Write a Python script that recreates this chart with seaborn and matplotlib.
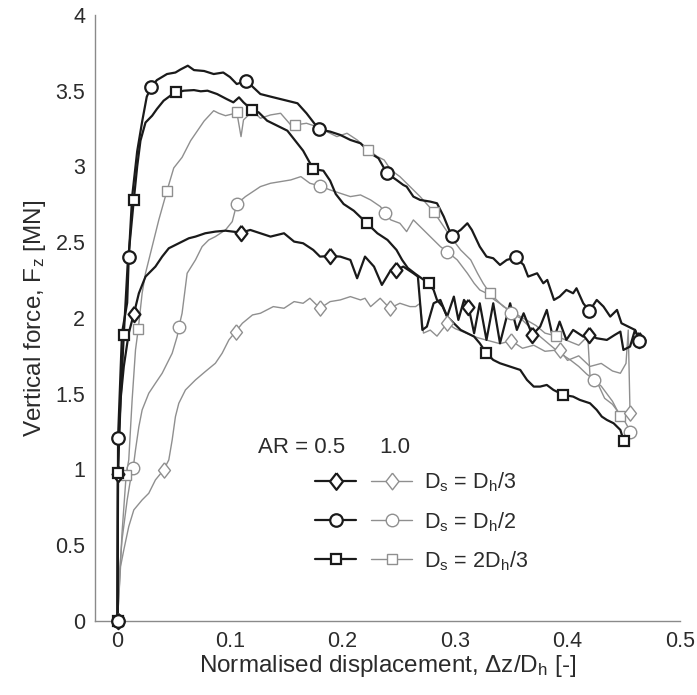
import matplotlib
matplotlib.use("Agg")
import matplotlib.pyplot as plt
import seaborn as sns
from matplotlib.lines import Line2D
from matplotlib.legend_handler import HandlerTuple

# ---- data (x = dz/Dh, y = Fz in MN) ----
# AR = 0.5, Ds = Dh/2 (dark, circles)
c05_x = [0, 0.0005, 0.004, 0.0086, 0.010, 0.013, 0.0175, 0.022, 0.026, 0.030, 0.035, 0.044,
         0.0515, 0.056, 0.0625, 0.068, 0.077, 0.0855, 0.094, 0.100, 0.106, 0.1146, 0.121, 0.127,
         0.136, 0.148, 0.160, 0.168, 0.179, 0.189, 0.198, 0.207, 0.216, 0.225, 0.232, 0.2395,
         0.248, 0.254, 0.257, 0.263, 0.269, 0.278, 0.284, 0.290, 0.297, 0.305, 0.311, 0.315,
         0.322, 0.328, 0.334, 0.340, 0.346, 0.354, 0.361, 0.365, 0.373, 0.3785, 0.382, 0.388,
         0.393, 0.399, 0.405, 0.408, 0.414, 0.4195, 0.426, 0.432, 0.438, 0.444, 0.448, 0.454,
         0.460, 0.464]
c05_y = [0, 1.21, 1.90, 2.10, 2.40, 2.80, 3.10, 3.30, 3.46, 3.526, 3.57, 3.61,
         3.62, 3.64, 3.665, 3.636, 3.63, 3.61, 3.62, 3.59, 3.544, 3.566, 3.52, 3.478,
         3.461, 3.439, 3.417, 3.351, 3.245, 3.230, 3.208, 3.175, 3.153, 3.087, 3.054, 2.955,
         2.911, 2.878, 2.867, 2.801, 2.779, 2.768, 2.757, 2.669, 2.541, 2.581, 2.625, 2.581,
         2.471, 2.405, 2.394, 2.350, 2.383, 2.400, 2.350, 2.273, 2.295, 2.229, 2.251, 2.119,
         2.141, 2.185, 2.163, 2.196, 2.097, 2.046, 2.119, 2.075, 2.009, 2.053, 1.965, 1.943,
         1.921, 1.850]
c05_mx = [0, 0.0005, 0.010, 0.030, 0.1146, 0.179, 0.2395, 0.297, 0.354, 0.4195, 0.464]
c05_my = [0, 1.21, 2.40, 3.526, 3.566, 3.245, 2.955, 2.541, 2.400, 2.046, 1.850]

# AR = 0.5, Ds = 2Dh/3 (dark, squares)
s05_x = [0, 0.0003, 0.003, 0.0056, 0.009, 0.0145, 0.0175, 0.0204, 0.0249, 0.0308, 0.035, 0.041,
         0.047, 0.0524, 0.059, 0.068, 0.074, 0.080, 0.0885, 0.097, 0.103, 0.108, 0.112, 0.1196,
         0.1255, 0.133, 0.142, 0.151, 0.158, 0.165, 0.174, 0.183, 0.189, 0.194, 0.201, 0.210,
         0.2217, 0.231, 0.240, 0.248, 0.253, 0.258, 0.265, 0.2765, 0.281, 0.284, 0.289, 0.293,
         0.299, 0.305, 0.311, 0.317, 0.322, 0.328, 0.334, 0.340, 0.349, 0.358, 0.364, 0.370,
         0.3757, 0.3816, 0.3875, 0.3964, 0.405, 0.411, 0.420, 0.426, 0.4305, 0.435, 0.441, 0.447,
         0.450]
s05_y = [0, 0.98, 1.50, 1.89, 2.35, 2.78, 3.00, 3.17, 3.29, 3.335, 3.379, 3.434,
         3.467, 3.489, 3.50, 3.504, 3.496, 3.50, 3.478, 3.445, 3.423, 3.456, 3.423, 3.372,
         3.357, 3.302, 3.269, 3.236, 3.17, 3.104, 2.983, 2.972, 2.906, 2.818, 2.752, 2.708,
         2.625, 2.559, 2.515, 2.449, 2.383, 2.33, 2.29, 2.229, 2.185, 2.119, 2.075, 2.009,
         1.965, 1.921, 1.899, 1.877, 1.833, 1.767, 1.723, 1.701, 1.679, 1.657, 1.591, 1.547,
         1.547, 1.558, 1.525, 1.492, 1.481, 1.459, 1.437, 1.393, 1.349, 1.327, 1.305, 1.261,
         1.188]
s05_mx = [0, 0.0003, 0.0056, 0.0145, 0.0524, 0.1196, 0.174, 0.2217, 0.2765, 0.328, 0.3964, 0.450]
s05_my = [0, 0.98, 1.89, 2.78, 3.489, 3.372, 2.983, 2.625, 2.229, 1.767, 1.492, 1.188]

# AR = 0.5, Ds = Dh/3 (dark, diamonds)
d05_x = [0, 0.0005, 0.001, 0.0027, 0.0056, 0.010, 0.0145, 0.019, 0.0249, 0.0337, 0.0397, 0.0456,
         0.0545, 0.0634, 0.0693, 0.078, 0.087, 0.096, 0.110, 0.118, 0.127, 0.136, 0.148, 0.157,
         0.165, 0.174, 0.180, 0.189, 0.198, 0.207, 0.213, 0.220, 0.228, 0.235, 0.243, 0.248,
         0.254, 0.263, 0.267, 0.271, 0.275, 0.281, 0.287, 0.293, 0.299, 0.303, 0.308, 0.312,
         0.317, 0.322, 0.328, 0.334, 0.340, 0.349, 0.355, 0.361, 0.3687, 0.3757, 0.3816, 0.3875,
         0.393, 0.399, 0.405, 0.414, 0.4195, 0.426, 0.435, 0.442, 0.447, 0.4497, 0.4556, 0.460,
         0.464]
d05_y = [0, 0.97, 1.19, 1.46, 1.68, 1.90, 2.026, 2.163, 2.273, 2.339, 2.405, 2.46,
         2.493, 2.526, 2.537, 2.559, 2.57, 2.576, 2.563, 2.581, 2.559, 2.537, 2.559, 2.504,
         2.493, 2.449, 2.405, 2.409, 2.405, 2.383, 2.262, 2.405, 2.339, 2.218, 2.317, 2.317,
         2.339, 2.295, 2.273, 1.921, 1.943, 2.097, 2.119, 2.009, 2.141, 1.987, 2.119, 2.075,
         1.899, 2.097, 1.855, 2.097, 1.833, 2.097, 1.921, 2.031, 1.888, 1.943, 2.053, 1.855,
         1.976, 1.855, 1.921, 1.877, 1.888, 1.866, 1.855, 1.888, 1.910, 1.789, 1.811, 1.921,
         1.855]
d05_mx = [0, 0.0005, 0.0145, 0.110, 0.189, 0.248, 0.312, 0.3687, 0.4195, 0.464]
d05_my = [0, 0.97, 2.026, 2.563, 2.409, 2.317, 2.075, 1.888, 1.888, 1.855]

# AR = 1.0, Ds = 2Dh/3 (light, squares)
s10_x = [0, 0.001, 0.004, 0.0077, 0.010, 0.013, 0.016, 0.0184, 0.0219, 0.0249, 0.0308, 0.0367,
         0.044, 0.050, 0.0574, 0.065, 0.077, 0.0855, 0.090, 0.096, 0.102, 0.106, 0.1098, 0.112,
         0.1166, 0.121, 0.127, 0.136, 0.145, 0.154, 0.158, 0.168, 0.177, 0.186, 0.195, 0.204,
         0.213, 0.223, 0.231, 0.237, 0.243, 0.251, 0.257, 0.269, 0.281, 0.290, 0.296, 0.305,
         0.314, 0.320, 0.325, 0.331, 0.337, 0.343, 0.349, 0.358, 0.365, 0.372, 0.380, 0.390,
         0.400, 0.410, 0.418, 0.420, 0.425, 0.430, 0.435, 0.440, 0.447]
s10_y = [0, 0.139, 0.579, 0.964, 1.063, 1.459, 1.789, 1.925, 2.163, 2.295, 2.471, 2.647,
         2.84, 2.99, 3.06, 3.17, 3.30, 3.368, 3.351, 3.335, 3.346, 3.36, 3.197, 3.307,
         3.340, 3.362, 3.318, 3.340, 3.351, 3.274, 3.274, 3.285, 3.263, 3.230, 3.197, 3.219,
         3.175, 3.109, 3.065, 3.043, 2.977, 2.933, 2.889, 2.801, 2.702, 2.603, 2.537, 2.449,
         2.383, 2.295, 2.229, 2.163, 2.119, 2.075, 2.053, 2.009, 1.98, 1.95, 1.90, 1.88,
         1.85, 1.82, 1.88, 1.62, 1.58, 1.55, 1.50, 1.45, 1.35]
s10_mx = [0, 0.0077, 0.0184, 0.044, 0.106, 0.158, 0.223, 0.281, 0.331, 0.390, 0.447]
s10_my = [0, 0.964, 1.925, 2.84, 3.36, 3.274, 3.109, 2.702, 2.163, 1.88, 1.35]

# AR = 1.0, Ds = Dh/2 (light, circles)
c10_x = [0, 0.001, 0.004, 0.0086, 0.0115, 0.0139, 0.016, 0.019, 0.0219, 0.0278, 0.0337, 0.0397,
         0.0486, 0.053, 0.0545, 0.0574, 0.0619, 0.0693, 0.0752, 0.0811, 0.087, 0.096, 0.102, 0.106,
         0.1137, 0.1226, 0.127, 0.136, 0.145, 0.154, 0.163, 0.171, 0.180, 0.189, 0.198, 0.207,
         0.216, 0.225, 0.2337, 0.238, 0.243, 0.251, 0.257, 0.263, 0.272, 0.281, 0.287, 0.293,
         0.302, 0.311, 0.317, 0.322, 0.328, 0.335, 0.343, 0.350, 0.358, 0.365, 0.372, 0.380,
         0.388, 0.395, 0.403, 0.410, 0.417, 0.424, 0.428, 0.433, 0.440, 0.445, 0.450, 0.456]
c10_y = [0, 0.249, 0.535, 0.799, 0.931, 1.008, 1.129, 1.283, 1.393, 1.503, 1.569, 1.635,
         1.767, 1.877, 1.938, 2.031, 2.295, 2.383, 2.471, 2.515, 2.537, 2.581, 2.636, 2.752,
         2.801, 2.845, 2.867, 2.889, 2.90, 2.911, 2.933, 2.889, 2.871, 2.845, 2.823, 2.801,
         2.812, 2.779, 2.735, 2.69, 2.647, 2.625, 2.570, 2.647, 2.581, 2.515, 2.471, 2.438,
         2.383, 2.295, 2.229, 2.185, 2.163, 2.12, 2.08, 2.03, 2.00, 1.95, 1.90, 1.85,
         1.80, 1.76, 1.72, 1.68, 1.63, 1.59, 1.55, 1.47, 1.43, 1.38, 1.33, 1.25]
c10_mx = [0, 0.0139, 0.0545, 0.106, 0.180, 0.238, 0.293, 0.350, 0.424, 0.456]
c10_my = [0, 1.008, 1.938, 2.752, 2.871, 2.69, 2.438, 2.03, 1.59, 1.25]

# AR = 1.0, Ds = Dh/3 (light, diamonds)
d10_x = [0, 0.0027, 0.0056, 0.010, 0.0145, 0.0219, 0.0278, 0.0337, 0.041, 0.0456, 0.0486, 0.0515,
         0.0545, 0.0604, 0.0693, 0.078, 0.087, 0.093, 0.099, 0.105, 0.111, 0.120, 0.127, 0.1385,
         0.148, 0.157, 0.165, 0.171, 0.180, 0.189, 0.198, 0.207, 0.216, 0.220, 0.225, 0.2335,
         0.242, 0.251, 0.260, 0.265, 0.269, 0.272, 0.278, 0.284, 0.293, 0.300, 0.310, 0.320,
         0.330, 0.340, 0.350, 0.360, 0.370, 0.380, 0.393, 0.400, 0.410, 0.420, 0.430, 0.440,
         0.447, 0.452, 0.454, 0.4556]
d10_y = [0, 0.359, 0.469, 0.623, 0.733, 0.799, 0.843, 0.931, 0.997, 1.063, 1.195, 1.349,
         1.437, 1.525, 1.591, 1.646, 1.701, 1.767, 1.855, 1.910, 1.965, 2.020, 2.031, 2.075,
         2.064, 2.108, 2.097, 2.130, 2.064, 2.108, 2.119, 2.141, 2.119, 2.130, 2.075, 2.130,
         2.064, 2.097, 2.075, 2.075, 2.097, 1.90, 1.92, 1.88, 1.965, 1.93, 1.90, 1.87,
         1.85, 1.83, 1.85, 1.80, 1.82, 1.78, 1.79, 1.72, 1.75, 1.68, 1.70, 1.65,
         1.635, 1.70, 1.92, 1.371]
d10_mx = [0, 0.041, 0.105, 0.180, 0.242, 0.293, 0.350, 0.393, 0.4556]
d10_my = [0, 0.997, 1.910, 2.064, 2.064, 1.965, 1.85, 1.79, 1.371]

dark = "#1a1a1a"
light = "#8f8f8f"
txt = "#2b2b2b"
# tall open diamond, as in the original figure
diamond = [(0, 1), (0.78, 0), (0, -1), (-0.78, 0), (0, 1)]

sns.set_style("white")
plt.rcParams["font.family"] = ["Liberation Sans", "DejaVu Sans"]
plt.rcParams["mathtext.fontset"] = "custom"
plt.rcParams["mathtext.rm"] = "Liberation Sans"
plt.rcParams["mathtext.it"] = "Liberation Sans"

fig = plt.figure(figsize=(6.97, 6.95), dpi=100)
ax = fig.add_axes([0.1363, 0.1065, 0.8393, 0.872])

series = [
    (c10_x, c10_y, c10_mx, c10_my, light, 1.0, "o", 9),
    (s10_x, s10_y, s10_mx, s10_my, light, 1.0, "s", 7),
    (d10_x, d10_y, d10_mx, d10_my, light, 1.0, diamond, 11),
    (d05_x, d05_y, d05_mx, d05_my, dark, 1.6, diamond, 11),
    (s05_x, s05_y, s05_mx, s05_my, dark, 1.6, "s", 7),
    (c05_x, c05_y, c05_mx, c05_my, dark, 1.6, "o", 9),
]
for x, y, mx, my, col, lw, mk, ms in series:
    sns.lineplot(x=x, y=y, ax=ax, sort=False, estimator=None, color=col, lw=lw)
    ax.plot(mx, my, ls="none", marker=mk, ms=ms, mfc="white", mec=col,
            mew=lw, clip_on=False, zorder=3)

ax.set_xlim(-0.02, 0.5)
ax.set_ylim(0, 4)
ax.set_xticks([0, 0.1, 0.2, 0.3, 0.4, 0.5])
ax.set_xticklabels(["0", "0.1", "0.2", "0.3", "0.4", "0.5"])
ax.set_yticks([0, 0.5, 1, 1.5, 2, 2.5, 3, 3.5, 4])
ax.set_yticklabels(["0", "0.5", "1", "1.5", "2", "2.5", "3", "3.5", "4"])
sns.despine(ax=ax)
for sp in ("left", "bottom"):
    ax.spines[sp].set_color("#8a8a8a")
    ax.spines[sp].set_linewidth(1.0)
ax.tick_params(direction="in", length=5, width=1, color="#8a8a8a",
               labelsize=15.5, labelcolor=txt, pad=7)
ax.set_xlabel(r"Normalised displacement, $\Delta$z/D$_\mathregular{h}$ [-]",
              fontsize=17.5, color=txt, labelpad=1)
ax.set_ylabel(r"Vertical force, F$_\mathregular{z}$ [MN]",
              fontsize=17.5, color=txt, labelpad=5)

# legend: two handles (AR = 0.5 dark, AR = 1.0 light) per row
def hnd(col, lw, mk, ms):
    return Line2D([], [], color=col, lw=lw, marker=mk, ms=ms, mfc="white",
                  mec=col, mew=lw)

handles = [
    (hnd(dark, 1.6, diamond, 12), hnd(light, 1.0, diamond, 12)),
    (hnd(dark, 1.6, "o", 9), hnd(light, 1.0, "o", 9)),
    (hnd(dark, 1.6, "s", 7), hnd(light, 1.0, "s", 7)),
]
labels = [r"D$_\mathregular{s}$ = D$_\mathregular{h}$/3",
          r"D$_\mathregular{s}$ = D$_\mathregular{h}$/2",
          r"D$_\mathregular{s}$ = 2D$_\mathregular{h}$/3"]
leg = ax.legend(handles, labels, handler_map={tuple: HandlerTuple(ndivide=None, pad=0.7)},
                handlelength=4.5, handletextpad=0.55, labelspacing=0.72, frameon=False,
                fontsize=15.5, loc="upper left", bbox_to_anchor=(0.362, 0.262),
                borderaxespad=0, labelcolor=txt)
ax.text(0.2786, 0.287, "AR = 0.5", transform=ax.transAxes, fontsize=16,
        color=txt, va="center", ha="left")
ax.text(0.513, 0.287, "1.0", transform=ax.transAxes, fontsize=16,
        color=txt, va="center", ha="center")

fig.savefig("out.png", dpi=100)
